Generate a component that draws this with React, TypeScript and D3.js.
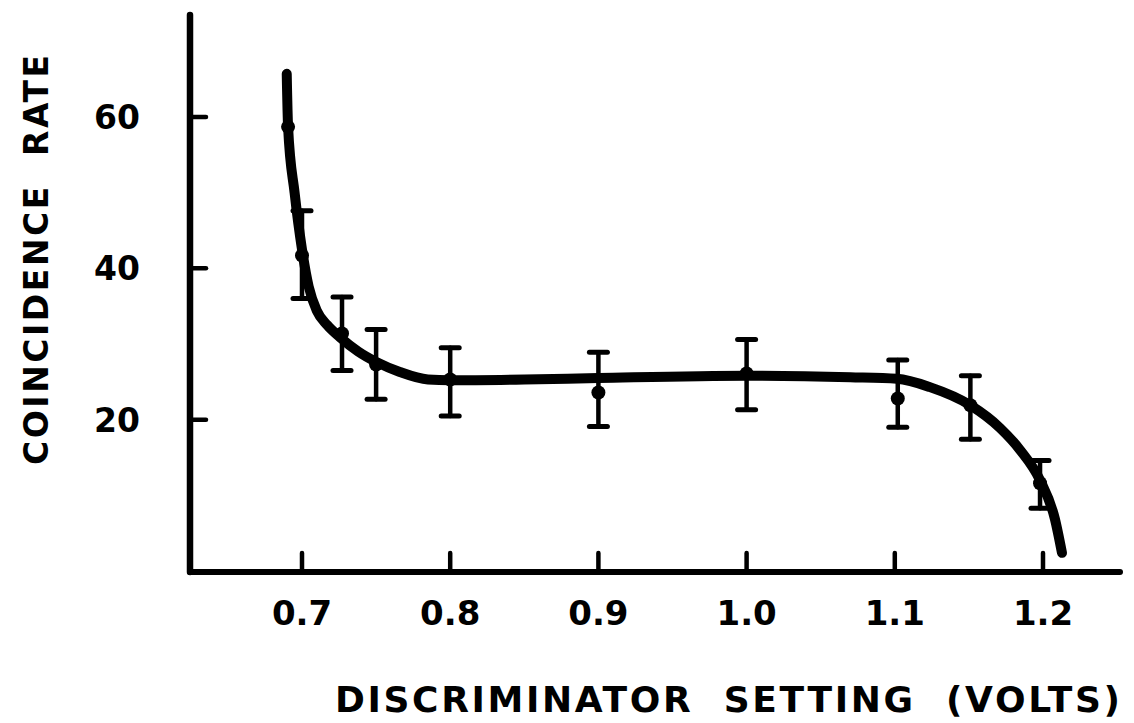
import React from "react";
import * as d3 from "d3";

const settings = [0.6906, 0.7, 0.727, 0.75, 0.8, 0.9, 1.0, 1.102, 1.151, 1.198];
const rates = [58.7, 41.7, 31.4, 27.3, 25.3, 23.6, 26.1, 22.8, 21.9, 11.6];
const errHigh = [NaN, 47.6, 36.2, 31.9, 29.5, 28.9, 30.6, 27.9, 25.8, 14.6];
const errLow = [NaN, 36.0, 26.5, 22.7, 20.5, 19.1, 21.3, 19.0, 17.4, 8.3];

const curveX = [0.6897, 0.6906, 0.695, 0.7, 0.7045, 0.71, 0.717, 0.7256, 0.738, 0.7504, 0.766, 0.785, 0.8, 0.85, 0.9, 1.0, 1.07, 1.1015, 1.1237, 1.151, 1.171, 1.1845, 1.198, 1.208, 1.2128];
const curveY = [65.7, 58.7, 50, 42.5, 37.6, 34.4, 32.5, 30.9, 29.0, 27.6, 26.3, 25.3, 25.2, 25.3, 25.5, 25.8, 25.6, 25.4, 24.3, 21.9, 18.9, 16.0, 12.0, 6.9, 2.4];

const xTicks = [0.7, 0.8, 0.9, 1.0, 1.1, 1.2];
const xTickLabels = ["0.7", "0.8", "0.9", "1.0", "1.1", "1.2"];
const yTicks = [20, 40, 60];
const yTickLabels = ["20", "40", "60"];

const W = 1134;
const H = 723;
const FONT = "'DejaVu Sans', sans-serif";

export default function App() {
  const x = d3.scaleLinear().domain([0.7, 1.2]).range([302, 1043]);
  const y = d3.scaleLinear().domain([0, 60]).range([571, 117]);
  const x0 = 190;
  const x1 = 1120;
  const yTop = 15;
  const yAxis = 572;

  const pts: [number, number][] = curveX.map((v, i) => [v, curveY[i]]);
  const line = d3
    .line<[number, number]>()
    .x((d) => x(d[0]))
    .y((d) => y(d[1]))
    .curve(d3.curveMonotoneX);

  return (
    <svg
      width={W}
      height={H}
      style={{ position: "absolute", left: 0, top: 0, background: "#fff" }}
    >
      <rect width={W} height={H} fill="#fff" />
      {/* axes */}
      <line x1={x0} y1={yTop} x2={x0} y2={yAxis} stroke="#000" strokeWidth={6.5} strokeLinecap="round" />
      <line x1={x0} y1={yAxis} x2={x1} y2={yAxis} stroke="#000" strokeWidth={6} strokeLinecap="round" />
      {yTicks.map((t, i) => (
        <g key={"yt" + i}>
          <line x1={x0} x2={x0 + 16} y1={y(t)} y2={y(t)} stroke="#000" strokeWidth={4.5} strokeLinecap="round" />
          <text
            x={140}
            y={y(t)}
            dy="0.36em"
            textAnchor="end"
            fontFamily={FONT}
            fontWeight="bold"
            fontSize={33}
          >
            {yTickLabels[i]}
          </text>
        </g>
      ))}
      {xTicks.map((t, i) => (
        <g key={"xt" + i}>
          <line x1={x(t)} x2={x(t)} y1={yAxis} y2={yAxis - 19} stroke="#000" strokeWidth={4.5} strokeLinecap="round" />
          <text
            x={x(t)}
            y={625}
            textAnchor="middle"
            fontFamily={FONT}
            fontWeight="bold"
            fontSize={34}
          >
            {xTickLabels[i]}
          </text>
        </g>
      ))}
      {/* fitted curve */}
      <path d={line(pts) || ""} fill="none" stroke="#000" strokeWidth={10} strokeLinecap="round" strokeLinejoin="round" />
      {/* error bars and points */}
      {settings.map((s, i) => (
        <g key={"p" + i}>
          {!isNaN(errHigh[i]) && (
            <g stroke="#000" strokeLinecap="round">
              <line x1={x(s)} x2={x(s)} y1={y(errHigh[i])} y2={y(errLow[i])} strokeWidth={4.5} />
              <line x1={x(s) - 9} x2={x(s) + 9} y1={y(errHigh[i])} y2={y(errHigh[i])} strokeWidth={5} />
              <line x1={x(s) - 9} x2={x(s) + 9} y1={y(errLow[i])} y2={y(errLow[i])} strokeWidth={5} />
            </g>
          )}
          <circle cx={x(s)} cy={y(rates[i])} r={7} fill="#000" />
        </g>
      ))}
      {/* axis titles */}
      <text
        transform={`translate(48, 465) rotate(-90)`}
        fontFamily={FONT}
        fontWeight="bold"
        fontSize={33}
        textLength={410}
        lengthAdjust="spacing"
        xmlSpace="preserve"
      >
        COINCIDENCE  RATE
      </text>
      <text
        x={335}
        y={712}
        fontFamily={FONT}
        fontWeight="bold"
        fontSize={36}
        textLength={785}
        lengthAdjust="spacing"
        xmlSpace="preserve"
      >
        DISCRIMINATOR  SETTING  (VOLTS)
      </text>
    </svg>
  );
}
